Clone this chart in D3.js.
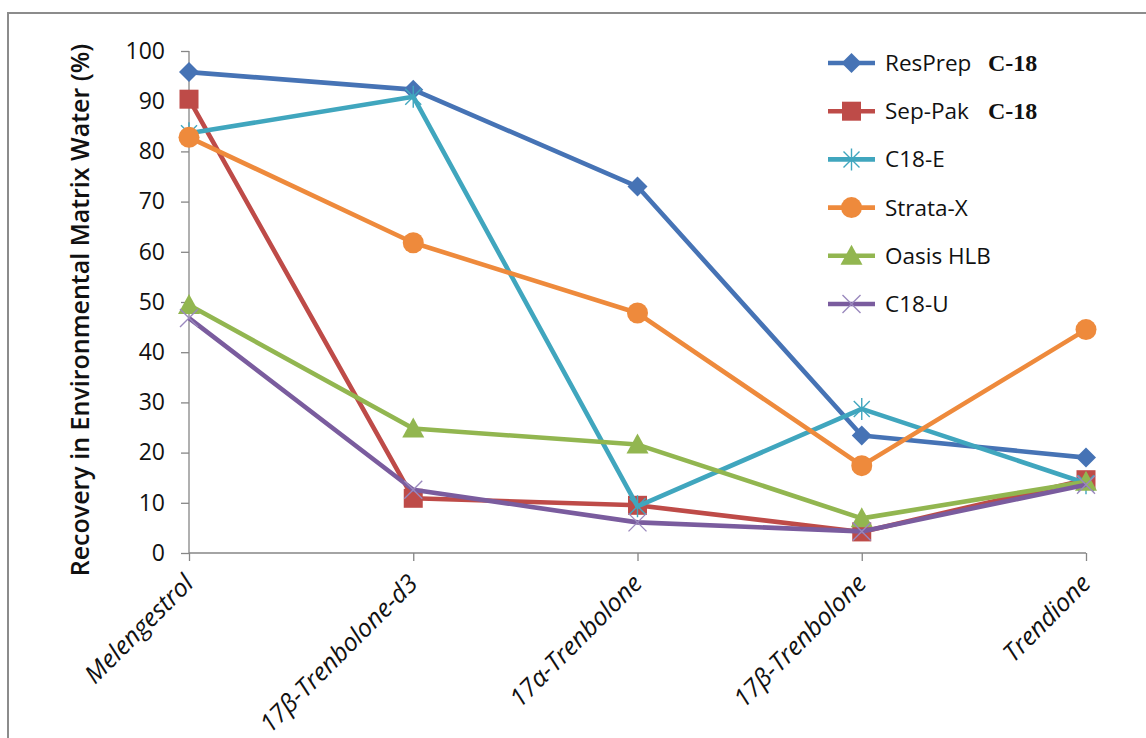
<!DOCTYPE html>
<html>
<head>
<meta charset="utf-8">
<script src="https://cdn.jsdelivr.net/npm/d3@7"></script>
<style>
  html, body { margin: 0; padding: 0; background: #fff; }
  svg { display: block; }
</style>
</head>
<body>
<svg id="chart" width="1146" height="738"></svg>
<script>
// Compounds on the x axis
const categories = ["Melengestrol", "17β-Trenbolone-d3", "17α-Trenbolone", "17β-Trenbolone", "Trendione"];

// Recovery (%) for each SPE cartridge
const resPrep  = [95.8, 92.3, 73.0, 23.4, 19.0];
const sepPak   = [90.4, 10.9,  9.5,  4.2, 14.6];
const c18E     = [83.6, 90.9,  9.3, 28.7, 13.9];
const strataX  = [82.8, 61.8, 47.8, 17.4, 44.5];
const oasisHLB = [49.4, 24.8, 21.6,  6.9, 14.2];
const c18U     = [46.8, 12.6,  6.1,  4.3, 13.6];

const seriesNames = ["ResPrep", "Sep-Pak", "C18-E", "Strata-X", "Oasis HLB", "C18-U"];
const seriesSuffix = ["C-18", "C-18", "", "", "", ""];
const seriesColors = ["#4673B5", "#BE4B48", "#40A6BE", "#EE8A3C", "#92B650", "#7A5C9E"];
const seriesMarkers = ["diamond", "square", "star", "circle", "triangle", "cross"];
const seriesValues = [resPrep, sepPak, c18E, strataX, oasisHLB, c18U];

const yTicks = [0, 10, 20, 30, 40, 50, 60, 70, 80, 90, 100];

const series = seriesNames.map((name, i) => ({
  name, suffix: seriesSuffix[i], color: seriesColors[i],
  marker: seriesMarkers[i], values: seriesValues[i]
}));

const svg = d3.select("#chart");
const axisColor = "#868686";
const font = "'Open Sans', 'Liberation Sans', sans-serif";

// Outer chart frame
svg.append("rect")
  .attr("x", 8).attr("y", 13).attr("width", 1160).attr("height", 760)
  .attr("fill", "none").attr("stroke", "#8c8c8c").attr("stroke-width", 2);

const x = d3.scalePoint().domain(categories).range([189, 1086]);
const y = d3.scaleLinear().domain([0, 100]).range([553, 51]);

// Y axis
const yAxis = svg.append("g")
  .attr("transform", "translate(189,0)")
  .call(d3.axisLeft(y).tickValues(yTicks).tickSize(8).tickPadding(16));
yAxis.select(".domain").attr("stroke", axisColor).attr("stroke-width", 1.3)
  .attr("d", `M0,${y(100)}V${y(0)}`);
yAxis.selectAll(".tick line").attr("stroke", axisColor).attr("stroke-width", 1.3);
yAxis.selectAll(".tick text")
  .attr("font-family", font).attr("font-size", 23).attr("fill", "#111");

// X axis
const xAxis = svg.append("g")
  .attr("transform", `translate(0,${y(0)})`)
  .call(d3.axisBottom(x).tickSize(8).tickFormat(""));
xAxis.select(".domain").attr("stroke", axisColor).attr("stroke-width", 1.3)
  .attr("d", `M189,0H1086`);
xAxis.selectAll(".tick line").attr("stroke", axisColor).attr("stroke-width", 1.3);

// Rotated category labels
svg.append("g").selectAll("text")
  .data(categories)
  .join("text")
  .attr("transform", d => `translate(${x(d) + 6},${y(0) + 32}) rotate(-45)`)
  .attr("text-anchor", "end")
  .attr("font-family", font)
  .attr("font-style", "italic")
  .attr("font-size", 25)
  .attr("fill", "#111")
  .text(d => d);

// Y axis title
svg.append("text")
  .attr("transform", "translate(89,310) rotate(-90)")
  .attr("text-anchor", "middle")
  .attr("font-family", font)
  .attr("font-weight", 600)
  .attr("font-size", 25)
  .attr("fill", "#111")
  .text("Recovery in Environmental Matrix Water (%)");

// Marker drawing helper
function drawMarker(g, type, color) {
  switch (type) {
    case "diamond":
      g.append("path").attr("d", "M0,-10L10,0L0,10L-10,0Z").attr("fill", color);
      break;
    case "square":
      g.append("rect").attr("x", -9.5).attr("y", -9.5).attr("width", 19).attr("height", 19).attr("fill", color);
      break;
    case "circle":
      g.append("circle").attr("r", 10.5).attr("fill", color);
      break;
    case "triangle":
      g.append("path").attr("d", "M0,-11L11,9L-11,9Z").attr("fill", color);
      break;
    case "star":
      g.append("path").attr("d", "M-8,-8L8,8M-8,8L8,-8M0,-11L0,11")
        .attr("stroke", color).attr("stroke-width", 1.4).attr("fill", "none");
      break;
    case "cross":
      g.append("path").attr("d", "M-9,-9L9,9M-9,9L9,-9")
        .attr("stroke", "#9a88bd").attr("stroke-width", 1.4).attr("fill", "none");
      break;
  }
}

const line = d3.line().x((d, i) => x(categories[i])).y(d => y(d));

// Series lines and markers
const plot = svg.append("g");
series.forEach(s => {
  const g = plot.append("g");
  g.append("path")
    .attr("d", line(s.values))
    .attr("fill", "none")
    .attr("stroke", s.color)
    .attr("stroke-width", 4.6)
    .attr("stroke-linejoin", "round");
  s.values.forEach((v, i) => {
    const m = g.append("g").attr("transform", `translate(${x(categories[i])},${y(v)})`);
    drawMarker(m, s.marker, s.color);
  });
});

// Legend
const legend = svg.append("g");
series.forEach((s, i) => {
  const ly = 63 + i * 48.2;
  const row = legend.append("g").attr("transform", `translate(0,${ly})`);
  row.append("line").attr("x1", 828).attr("x2", 875).attr("y1", 0).attr("y2", 0)
    .attr("stroke", s.color).attr("stroke-width", 4.6);
  const m = row.append("g").attr("transform", "translate(851.5,0)");
  drawMarker(m, s.marker, s.color);
  row.append("text")
    .attr("x", 885).attr("y", 8)
    .attr("font-family", font).attr("font-size", 22.5).attr("fill", "#111")
    .text(s.name);
  if (s.suffix) {
    row.append("text")
      .attr("x", 988).attr("y", 8)
      .attr("font-family", "'Liberation Serif', 'DejaVu Serif', serif")
      .attr("font-weight", "bold").attr("font-size", 24).attr("fill", "#111")
      .text(s.suffix);
  }
});
</script>
</body>
</html>
